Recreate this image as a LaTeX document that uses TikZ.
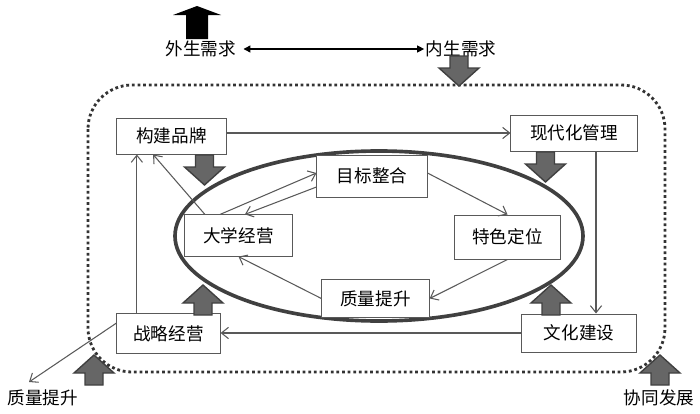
\documentclass[tikz,border=0pt]{standalone}
\usepackage{fontspec}
\newfontfamily\cjk{Noto Sans CJK SC}
\usetikzlibrary{arrows.meta}

\begin{document}
\begin{tikzpicture}[x=0.025cm, y=-0.025cm,
  box/.style={draw=black!65, line width=0.7pt, fill=white, inner sep=0pt,
    font=\cjk\fontsize{12.5}{15}\selectfont},
  txt/.style={inner sep=0pt, font=\cjk\fontsize{12.5}{15}\selectfont},
  conn/.style={draw=black!65, line width=0.75pt, -{Straight Barb[length=5pt,width=8pt]}},
  blockarrow/.style={fill=black!60, draw=black!75, line width=1pt},
  uparrow/.pic={\path[blockarrow] (0,0) -- (20,18) -- (9,18) -- (9,30) -- (-9,30) -- (-9,18) -- (-20,18) -- cycle;}]

\useasboundingbox (0,0) rectangle (700,414);

% frame and ellipse
\draw[black!80, line width=2pt, dash pattern=on 2pt off 2pt, rounded corners=1.1cm] (88,85) rectangle (665,372);
\draw[black!75, line width=2.6pt] (379,236) ellipse [x radius=204, y radius=85];

% demand
\node[txt] (outer) at (201,49) {外生需求};
\node[txt] (inner) at (461,49) {内生需求};
\draw[{Triangle[length=5pt,width=5pt]}-{Triangle[length=5pt,width=5pt]}, line width=0.9pt] ([xshift=5pt]outer.east) -- ([xshift=-1pt]inner.west);
\path[fill=black] (197,6) -- (221,15) -- (208,15) -- (208,39) -- (186,39) -- (186,15) -- (173,15) -- cycle;

% boxes
\node[box, minimum width=2.73cm, minimum height=0.9cm] (brand) at (171.5,136) {构建品牌};
\node[box, minimum width=3.15cm, minimum height=0.9cm] (manage) at (574,133) {现代化管理};
\node[box, minimum width=2.75cm, minimum height=1.05cm] (goal) at (372,176) {目标整合};
\node[box, minimum width=2.68cm, minimum height=1.03cm] (univ) at (238.5,235.5) {大学经营};
\node[box, minimum width=2.63cm, minimum height=1.1cm] (feature) at (507.5,237) {特色定位};
\node[box, minimum width=2.68cm, minimum height=0.93cm] (quality) at (375.5,298.5) {质量提升};
\node[box, minimum width=2.58cm, minimum height=0.98cm] (strategy) at (168.5,333.5) {战略经营};
\node[box, minimum width=2.85cm, minimum height=0.95cm] (culture) at (579,333) {文化建设};

\node[txt] (qualityout) at (43,398) {质量提升};
\node[txt] (cooperate) at (659,398) {协同发展};
\coordinate (qout) at (29,382);

% block arrows
\pic[rotate=180] at (459,86) {uparrow};
\pic[rotate=180] at (204.5,185) {uparrow};
\pic[rotate=180] at (545.5,182) {uparrow};
\pic at (203,285) {uparrow};
\pic at (551,285) {uparrow};
\pic at (94,355) {uparrow};
\pic at (660,355) {uparrow};

% connectors
\draw[conn] (brand.east |- manage.west) -- (manage.west);
\draw[conn] ([xshift=0.55cm]manage.south) -- ([xshift=0.55cm]manage.south |- culture.north);
\draw[conn] (culture.west) -- (culture.west -| strategy.east);
\draw[conn] ([xshift=-0.79cm]strategy.north) -- ([xshift=-0.79cm]strategy.north |- brand.south);
\draw[conn] ([xshift=-0.84cm]univ.north) -- ([xshift=-0.46cm]brand.south);
\draw[conn] ([xshift=-0.46cm]univ.north) -- ([yshift=0.075cm]goal.west);
\draw[conn] ([yshift=-0.275cm]goal.west) -- ([xshift=0.16cm]univ.north);
\draw[conn] ([yshift=0.075cm]goal.east) -- (feature.north);
\draw[conn] (feature.south) -- (quality.east);
\draw[conn] (quality.west) -- (univ.south);
\draw[conn] ([yshift=0.26cm]strategy.west) -- (qout);
\end{tikzpicture}
\end{document}
